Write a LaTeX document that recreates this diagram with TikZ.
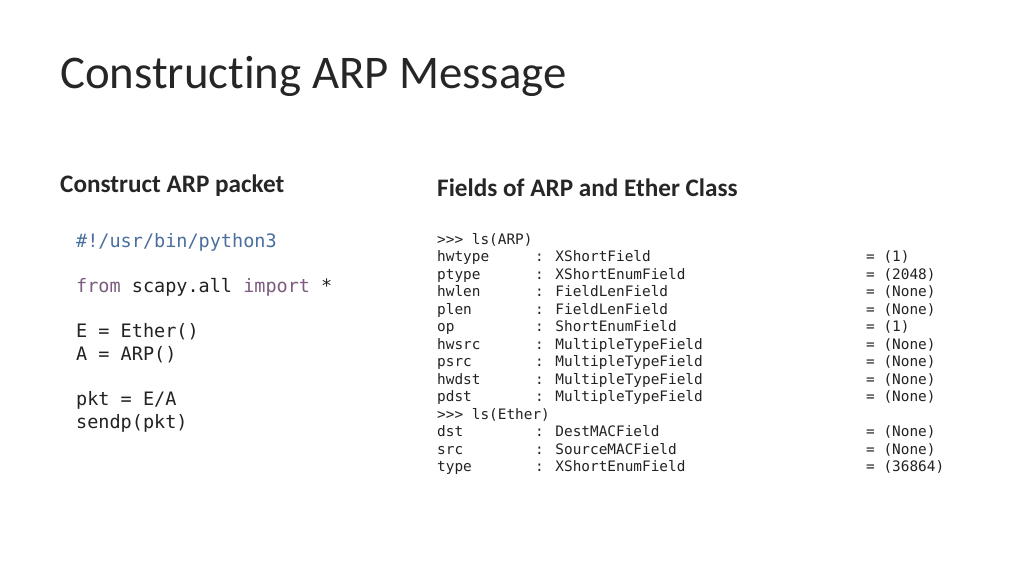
\documentclass[tikz,border=0pt]{standalone}
\usepackage{fontspec}
\setmainfont{Carlito}[Ligatures=NoCommon]
\newfontfamily\codefont{DejaVu Sans Mono}
\definecolor{shebang}{HTML}{4A6E9E}
\definecolor{keyword}{HTML}{7D5A7F}
\definecolor{codetext}{HTML}{222222}
\tikzset{
  title/.style={anchor=base west, inner sep=0, font={\fontsize{46.8}{54}\selectfont}, text=black!85},
  heading/.style={anchor=base west, inner sep=0, font={\fontsize{25.2}{30}\selectfont\bfseries}, text=black!85},
  pycode/.style={anchor=base west, inner sep=0, font={\codefont\fontsize{18.5}{22}\selectfont}, text=codetext},
  lscode/.style={anchor=base west, inner sep=0, font={\codefont\fontsize{14.4}{17}\selectfont}, text=codetext}
}
\begin{document}
\begin{tikzpicture}[x=1pt,y=-1pt]
  \useasboundingbox (0,0) rectangle (1024,576);

  % Title and headings
  \node[title] (title) at (60,88) {Constructing ARP Message};
  \node[heading] (left head) at (60,192) {Construct ARP packet};
  \node[heading] (right head) at (437,196) {Fields of ARP and Ether Class};

  % Python script
  \node[pycode, text=shebang] (py1) at (76,247) {\#!/usr/bin/python3};
  \node[pycode] (py2) at (76,292) {\textcolor{keyword}{from} scapy.all \textcolor{keyword}{import} *};
  \node[pycode] (py3) at (76,337) {E = Ether()};
  \node[pycode] (py4) at (76,360) {A = ARP()};
  \node[pycode] (py5) at (76,405) {pkt = E/A};
  \node[pycode] (py6) at (76,428) {sendp(pkt)};

  % ls() output
  \node[lscode] (ls arp) at (437,244) {>{}>{}> ls(ARP)};
  \foreach \fname/\ftype/\fval [count=\i] in {
      hwtype/XShortField/(1), ptype/XShortEnumField/(2048),
      hwlen/FieldLenField/(None), plen/FieldLenField/(None),
      op/ShortEnumField/(1), hwsrc/MultipleTypeField/(None),
      psrc/MultipleTypeField/(None), hwdst/MultipleTypeField/(None),
      pdst/MultipleTypeField/(None)} {
    \node[lscode] (arp name \i) at (437,{244+17.5*\i}) {\fname};
    \node[lscode] (arp type \i) at (535,{244+17.5*\i}) {: \ftype};
    \node[lscode] (arp val \i) at (866,{244+17.5*\i}) {= \fval};
  }
  \node[lscode] (ls ether) at (437,419) {>{}>{}> ls(Ether)};
  \foreach \fname/\ftype/\fval [count=\i] in {
      dst/DestMACField/(None), src/SourceMACField/(None),
      type/XShortEnumField/(36864)} {
    \node[lscode] (eth name \i) at (437,{419+17.5*\i}) {\fname};
    \node[lscode] (eth type \i) at (535,{419+17.5*\i}) {: \ftype};
    \node[lscode] (eth val \i) at (866,{419+17.5*\i}) {= \fval};
  }
\end{tikzpicture}
\end{document}
